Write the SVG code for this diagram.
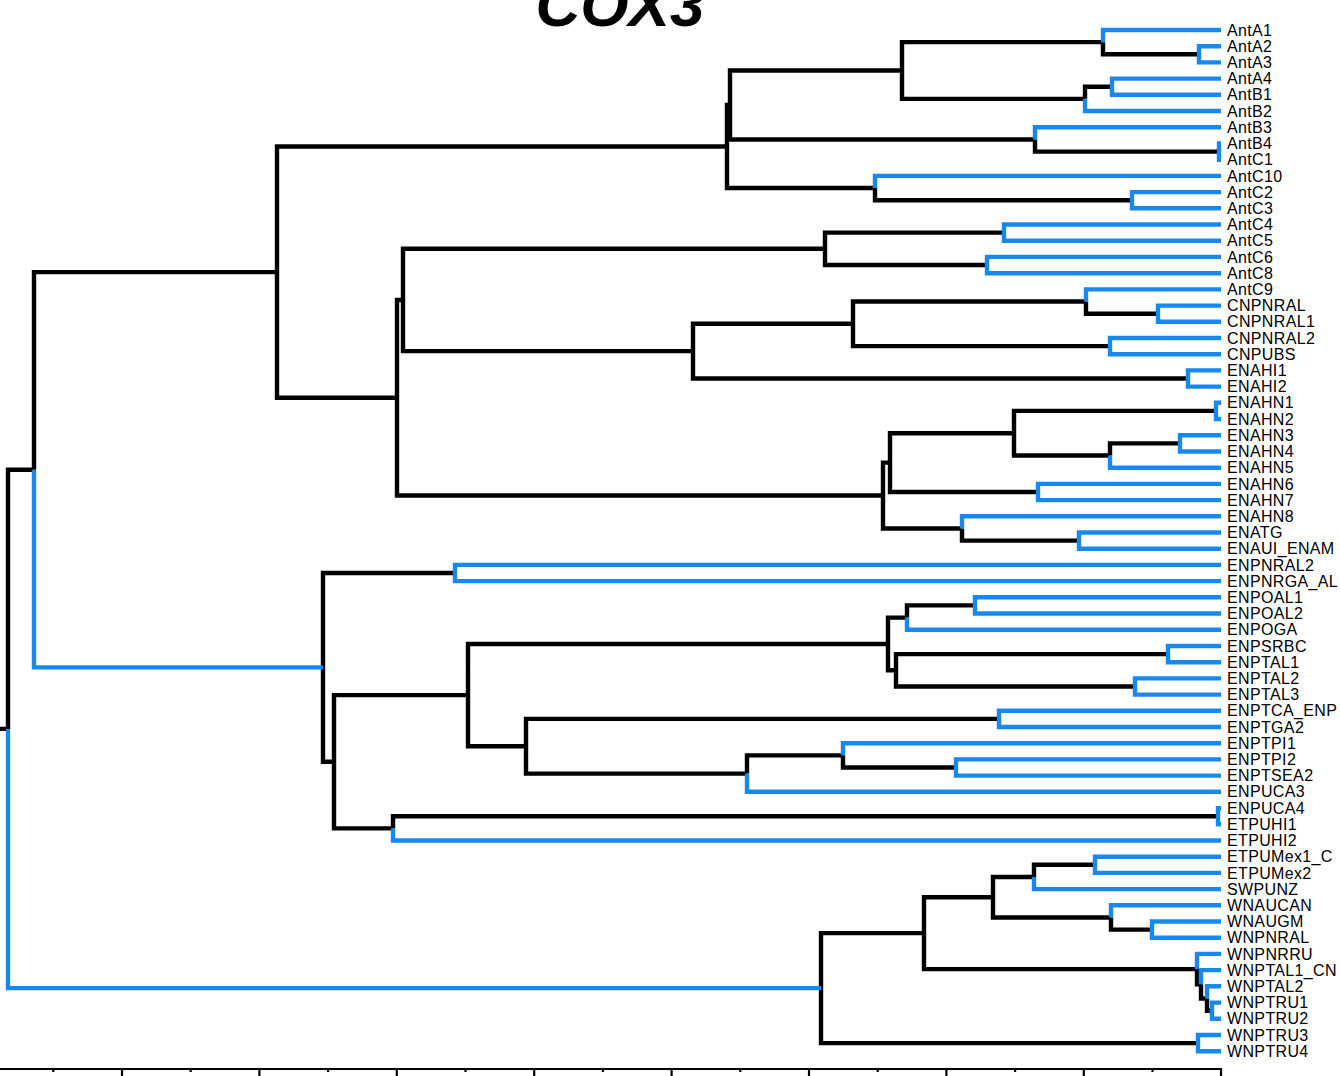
<svg xmlns="http://www.w3.org/2000/svg" width="1340" height="1076" viewBox="0 0 1340 1076">
<style>
.k{fill:none;stroke:#000;stroke-width:4.4}
.b{fill:none;stroke:#1688EE;stroke-width:4.4}
.lbl{font-family:"Liberation Sans",Arial,sans-serif;font-size:16px;letter-spacing:0.35px;fill:#000}
.ax{stroke:#000;stroke-width:2.2;fill:none}
</style>
<rect width="1340" height="1076" fill="#fff"/>
<g id="title"><text x="620" y="26" text-anchor="middle" style="font-family:'Liberation Sans',Arial,sans-serif;font-size:62px;font-weight:bold;font-style:italic">COX3</text></g>
<g id="connectors">
<path class="k" d="M0,728.9H8 M8,728.9V469.7H34 M34,469.7V272.1H277 M277,272.1V146.5H727 M277,272.1V397.75H397 M727,146.5V105H730 M727,146.5V188.05H875 M730,105V70.5H902 M730,105V139.45H1035 M902,70.5V42.15H1103 M902,70.5V98.85H1085 M1103,42.15V54.3H1199 M1085,98.85V86.7H1112 M1035,139.45V151.6H1219 M875,188.05V200.2H1132 M397,397.75V300H403 M397,397.75V495.5H883 M403,300V248.8H825 M403,300V351.15H693 M825,248.8V232.6H1004 M825,248.8V265.05H987 M693,351.15V323.8H853 M693,351.15V378.5H1188 M853,323.8V301.55H1086 M853,323.8V346.1H1110 M1086,301.55V313.7H1158 M883,495.5V462.6H890 M883,495.5V528.45H962 M890,462.6V433.2H1014 M890,462.6V492H1038 M1014,433.2V410.9H1216 M1014,433.2V455.55H1110 M1110,455.55V443.4H1180 M962,528.45V540.6H1079 M323,667.35V573H455 M323,667.35V761.7H334 M334,761.7V695.1H468 M334,761.7V828.35H393 M468,695.1V643.95H888 M468,695.1V746.25H526 M888,643.95V617.6H907 M888,643.95V670.3H896 M907,617.6V605.4H975 M896,670.3V654.1H1168 M896,670.3V686.5H1135 M526,746.25V718.9H999 M526,746.25V773.6H747 M747,773.6V755.35H843 M843,755.35V767.5H956 M393,828.35V816.2H1218 M821,988.1V933.15H924 M821,988.1V1043.1H1198 M924,933.15V897.2H993 M924,933.15V969.1H1197 M993,897.2V876.95H1034 M993,897.2V917.45H1111 M1034,876.95V864.8H1095 M1111,917.45V929.6H1152 M1197,969.1V984.3H1201 M1201,984.3V998.5H1207 M1207,998.5V1010.7H1212"/>
<path class="b" d="M8,728.9V988.1H821 M34,469.7V667.35H323 M1103,42.15V30H1221 M1199,54.3V46.2H1221 M1199,54.3V62.4H1221 M1112,86.7V78.6H1221 M1112,86.7V94.8H1221 M1085,98.85V111H1221 M1035,139.45V127.3H1221 M1219,151.6V143.5H1221 M1219,151.6V159.7H1221 M875,188.05V175.9H1221 M1132,200.2V192.1H1221 M1132,200.2V208.3H1221 M1004,232.6V224.5H1221 M1004,232.6V240.7H1221 M987,265.05V256.9H1221 M987,265.05V273.2H1221 M1086,301.55V289.4H1221 M1158,313.7V305.6H1221 M1158,313.7V321.8H1221 M1110,346.1V338H1221 M1110,346.1V354.2H1221 M1188,378.5V370.4H1221 M1188,378.5V386.6H1221 M1216,410.9V402.8H1221 M1216,410.9V419H1221 M1180,443.4V435.3H1221 M1180,443.4V451.5H1221 M1110,455.55V467.7H1221 M1038,492V483.9H1221 M1038,492V500.1H1221 M962,528.45V516.3H1221 M1079,540.6V532.5H1221 M1079,540.6V548.7H1221 M455,573V564.9H1221 M455,573V581.1H1221 M975,605.4V597.3H1221 M975,605.4V613.5H1221 M907,617.6V629.8H1221 M1168,654.1V646H1221 M1168,654.1V662.2H1221 M1135,686.5V678.4H1221 M1135,686.5V694.6H1221 M999,718.9V710.8H1221 M999,718.9V727H1221 M843,755.35V743.2H1221 M956,767.5V759.4H1221 M956,767.5V775.6H1221 M747,773.6V791.8H1221 M1218,816.2V808.1H1221 M1218,816.2V824.3H1221 M393,828.35V840.5H1221 M1095,864.8V856.7H1221 M1095,864.8V872.9H1221 M1034,876.95V889.1H1221 M1111,917.45V905.3H1221 M1152,929.6V921.5H1221 M1152,929.6V937.7H1221 M1197,969.1V953.9H1221 M1201,984.3V970.1H1221 M1207,998.5V986.3H1221 M1212,1010.7V1002.6H1221 M1212,1010.7V1018.8H1221 M1198,1043.1V1035H1221 M1198,1043.1V1051.2H1221"/>
</g>
<g id="axis">
<path class="ax" d="M0,1069H1222"/>
<path class="ax" d="M122,1069V1076 M259.4,1069V1076 M396.8,1069V1076 M534.2,1069V1076 M671.6,1069V1076 M809,1069V1076 M946.4,1069V1076 M1083.8,1069V1076 M1221,1069V1076"/>
<path class="ax" d="M53.3,1069V1072 M190.7,1069V1072 M328.1,1069V1072 M465.5,1069V1072 M602.9,1069V1072 M740.3,1069V1072 M877.7,1069V1072 M1015.1,1069V1072 M1152.5,1069V1072"/>
</g>
<g id="leaves">
<g id="leaf-AntA1"><text class="lbl" x="1227" y="35.6">AntA1</text></g>
<g id="leaf-AntA2"><text class="lbl" x="1227" y="51.8">AntA2</text></g>
<g id="leaf-AntA3"><text class="lbl" x="1227" y="68">AntA3</text></g>
<g id="leaf-AntA4"><text class="lbl" x="1227" y="84.2">AntA4</text></g>
<g id="leaf-AntB1"><text class="lbl" x="1227" y="100.4">AntB1</text></g>
<g id="leaf-AntB2"><text class="lbl" x="1227" y="116.6">AntB2</text></g>
<g id="leaf-AntB3"><text class="lbl" x="1227" y="132.9">AntB3</text></g>
<g id="leaf-AntB4"><text class="lbl" x="1227" y="149.1">AntB4</text></g>
<g id="leaf-AntC1"><text class="lbl" x="1227" y="165.3">AntC1</text></g>
<g id="leaf-AntC10"><text class="lbl" x="1227" y="181.5">AntC10</text></g>
<g id="leaf-AntC2"><text class="lbl" x="1227" y="197.7">AntC2</text></g>
<g id="leaf-AntC3"><text class="lbl" x="1227" y="213.9">AntC3</text></g>
<g id="leaf-AntC4"><text class="lbl" x="1227" y="230.1">AntC4</text></g>
<g id="leaf-AntC5"><text class="lbl" x="1227" y="246.3">AntC5</text></g>
<g id="leaf-AntC6"><text class="lbl" x="1227" y="262.5">AntC6</text></g>
<g id="leaf-AntC8"><text class="lbl" x="1227" y="278.8">AntC8</text></g>
<g id="leaf-AntC9"><text class="lbl" x="1227" y="295">AntC9</text></g>
<g id="leaf-CNPNRAL"><text class="lbl" x="1227" y="311.2">CNPNRAL</text></g>
<g id="leaf-CNPNRAL1"><text class="lbl" x="1227" y="327.4">CNPNRAL1</text></g>
<g id="leaf-CNPNRAL2"><text class="lbl" x="1227" y="343.6">CNPNRAL2</text></g>
<g id="leaf-CNPUBS"><text class="lbl" x="1227" y="359.8">CNPUBS</text></g>
<g id="leaf-ENAHI1"><text class="lbl" x="1227" y="376">ENAHI1</text></g>
<g id="leaf-ENAHI2"><text class="lbl" x="1227" y="392.2">ENAHI2</text></g>
<g id="leaf-ENAHN1"><text class="lbl" x="1227" y="408.4">ENAHN1</text></g>
<g id="leaf-ENAHN2"><text class="lbl" x="1227" y="424.6">ENAHN2</text></g>
<g id="leaf-ENAHN3"><text class="lbl" x="1227" y="440.9">ENAHN3</text></g>
<g id="leaf-ENAHN4"><text class="lbl" x="1227" y="457.1">ENAHN4</text></g>
<g id="leaf-ENAHN5"><text class="lbl" x="1227" y="473.3">ENAHN5</text></g>
<g id="leaf-ENAHN6"><text class="lbl" x="1227" y="489.5">ENAHN6</text></g>
<g id="leaf-ENAHN7"><text class="lbl" x="1227" y="505.7">ENAHN7</text></g>
<g id="leaf-ENAHN8"><text class="lbl" x="1227" y="521.9">ENAHN8</text></g>
<g id="leaf-ENATG"><text class="lbl" x="1227" y="538.1">ENATG</text></g>
<g id="leaf-ENAUI_ENAM"><text class="lbl" x="1227" y="554.3">ENAUI_ENAM</text></g>
<g id="leaf-ENPNRAL2"><text class="lbl" x="1227" y="570.5">ENPNRAL2</text></g>
<g id="leaf-ENPNRGA_AL"><text class="lbl" x="1227" y="586.7">ENPNRGA_AL</text></g>
<g id="leaf-ENPOAL1"><text class="lbl" x="1227" y="602.9">ENPOAL1</text></g>
<g id="leaf-ENPOAL2"><text class="lbl" x="1227" y="619.1">ENPOAL2</text></g>
<g id="leaf-ENPOGA"><text class="lbl" x="1227" y="635.4">ENPOGA</text></g>
<g id="leaf-ENPSRBC"><text class="lbl" x="1227" y="651.6">ENPSRBC</text></g>
<g id="leaf-ENPTAL1"><text class="lbl" x="1227" y="667.8">ENPTAL1</text></g>
<g id="leaf-ENPTAL2"><text class="lbl" x="1227" y="684">ENPTAL2</text></g>
<g id="leaf-ENPTAL3"><text class="lbl" x="1227" y="700.2">ENPTAL3</text></g>
<g id="leaf-ENPTCA_ENP"><text class="lbl" x="1227" y="716.4">ENPTCA_ENP</text></g>
<g id="leaf-ENPTGA2"><text class="lbl" x="1227" y="732.6">ENPTGA2</text></g>
<g id="leaf-ENPTPI1"><text class="lbl" x="1227" y="748.8">ENPTPI1</text></g>
<g id="leaf-ENPTPI2"><text class="lbl" x="1227" y="765">ENPTPI2</text></g>
<g id="leaf-ENPTSEA2"><text class="lbl" x="1227" y="781.2">ENPTSEA2</text></g>
<g id="leaf-ENPUCA3"><text class="lbl" x="1227" y="797.4">ENPUCA3</text></g>
<g id="leaf-ENPUCA4"><text class="lbl" x="1227" y="813.7">ENPUCA4</text></g>
<g id="leaf-ETPUHI1"><text class="lbl" x="1227" y="829.9">ETPUHI1</text></g>
<g id="leaf-ETPUHI2"><text class="lbl" x="1227" y="846.1">ETPUHI2</text></g>
<g id="leaf-ETPUMex1_C"><text class="lbl" x="1227" y="862.3">ETPUMex1_C</text></g>
<g id="leaf-ETPUMex2"><text class="lbl" x="1227" y="878.5">ETPUMex2</text></g>
<g id="leaf-SWPUNZ"><text class="lbl" x="1227" y="894.7">SWPUNZ</text></g>
<g id="leaf-WNAUCAN"><text class="lbl" x="1227" y="910.9">WNAUCAN</text></g>
<g id="leaf-WNAUGM"><text class="lbl" x="1227" y="927.1">WNAUGM</text></g>
<g id="leaf-WNPNRAL"><text class="lbl" x="1227" y="943.3">WNPNRAL</text></g>
<g id="leaf-WNPNRRU"><text class="lbl" x="1227" y="959.5">WNPNRRU</text></g>
<g id="leaf-WNPTAL1_CN"><text class="lbl" x="1227" y="975.7">WNPTAL1_CN</text></g>
<g id="leaf-WNPTAL2"><text class="lbl" x="1227" y="991.9">WNPTAL2</text></g>
<g id="leaf-WNPTRU1"><text class="lbl" x="1227" y="1008.2">WNPTRU1</text></g>
<g id="leaf-WNPTRU2"><text class="lbl" x="1227" y="1024.4">WNPTRU2</text></g>
<g id="leaf-WNPTRU3"><text class="lbl" x="1227" y="1040.6">WNPTRU3</text></g>
<g id="leaf-WNPTRU4"><text class="lbl" x="1227" y="1056.8">WNPTRU4</text></g>
</g>
</svg>
